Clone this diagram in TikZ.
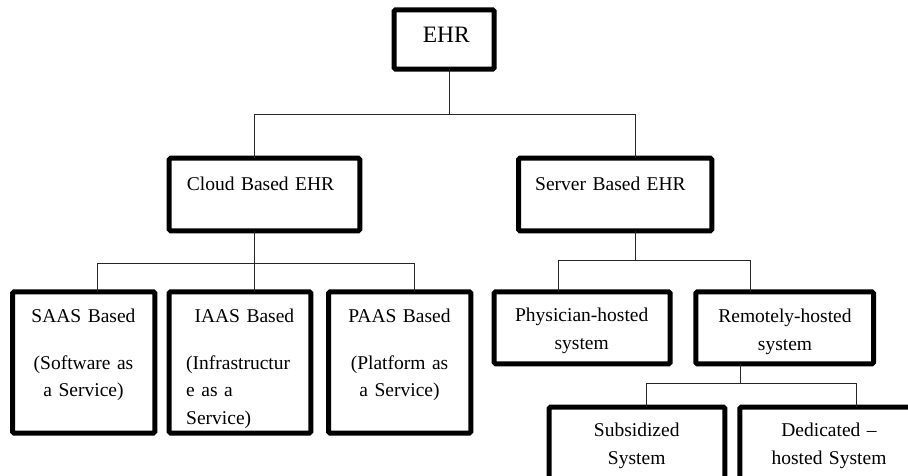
\documentclass[tikz,border=0pt]{standalone}
\usepackage{fontspec}
\setmainfont{Liberation Serif}
\begin{document}
\begin{tikzpicture}[x=1pt,y=-1pt,
  box/.style={draw=black, line width=5pt, rounded corners=1.5pt, inner sep=0pt, outer sep=0pt},
  conn/.style={draw=black!85, line width=1pt},
  lbl/.style={font=\fontsize{19.5}{27.5}\selectfont, inner sep=0pt, align=center, text width=#1, anchor=base},
  lbl/.default=170pt]
\useasboundingbox (0,0) rectangle (908,475);
\clip (0,0) rectangle (908,475);
\fill[white] (0,0) rectangle (908,475);

% boxes
\node[box, minimum width=100pt,   minimum height=59.4pt]  (ehr)    at (444.2,39.5)  {};
\node[box, minimum width=190.6pt, minimum height=72.6pt]  (cloud)  at (264.5,194.5) {};
\node[box, minimum width=193.3pt, minimum height=72.6pt]  (server) at (615.15,194.5) {};
\node[box, minimum width=142.3pt, minimum height=141.2pt] (saas)   at (83.65,362.4) {};
\node[box, minimum width=141.6pt, minimum height=141.2pt] (iaas)   at (240,362.4)   {};
\node[box, minimum width=142.3pt, minimum height=141.2pt] (paas)   at (399.65,362.4) {};
\node[box, minimum width=176pt,   minimum height=72pt]    (phys)   at (582.2,327.8) {};
\node[box, minimum width=177.7pt, minimum height=72pt]    (remote) at (784.65,327.8) {};
\node[box, minimum width=175.6pt, minimum height=75.5pt]  (subs)   at (637,444.75)  {};
\node[box, minimum width=178.4pt, minimum height=75.5pt]  (dedi)   at (829,444.75)  {};

% texts
\node[lbl=90pt, font=\fontsize{23.5}{28}\selectfont] (ehrt) at (446.3,42.7) {EHR};
\node[lbl=170pt, align=left, anchor=base west] (cloudt)  at (186.7,190) {Cloud Based EHR};
\node[lbl=170pt, align=left, anchor=base west] (servert) at (535,190)   {Server Based EHR};
\node[lbl=135pt] (saast) at (83.5,322.7) {SAAS Based\\[18.8pt](Software as\\a Service)};
\node[lbl=108pt, align=left, anchor=base west] (iaast) at (186,322.7)
  {\hspace*{\fill}IAAS Based\hspace*{\fill}\\[18.8pt](Infrastructur\\e as a\\Service)};
\node[lbl=135pt] (paast) at (399.5,322.7) {PAAS Based\\[18.8pt](Platform as\\a Service)};
\node[lbl=170pt] (physt)   at (581.7,321.7) {Physician-hosted\\system};
\node[lbl=170pt] (remotet) at (785,322.7)   {Remotely-hosted\\system};
\node[lbl=170pt] (subst)   at (636.7,436.7) {Subsidized\\System};
\node[lbl=170pt] (dedit)   at (829,436.7)   {Dedicated –\\hosted System};

% junctions
\coordinate (jE) at (449.3,114.7);
\coordinate (jC) at (254.3,114.7);
\coordinate (jS) at (635.7,114.7);
\coordinate (kC) at (254.3,263.3);
\coordinate (kL) at (97.7,263.3);
\coordinate (kR) at (414.3,263.3);
\coordinate (mS) at (635.7,260);
\coordinate (mL) at (558.3,260);
\coordinate (mR) at (750.7,260);
\coordinate (nS) at (740.7,383.3);
\coordinate (nL) at (646,383.3);
\coordinate (nR) at (856,383.3);

% connectors
\draw[conn] (ehr.south -| jE) -- (jE);
\draw[conn] (cloud.north -| jC) -- (jC) -- (jS) -- (server.north -| jS);
\draw[conn] (cloud.south -| kC) -- (kC);
\draw[conn] (saas.north -| kL) -- (kL) -- (kR) -- (paas.north -| kR);
\draw[conn] (kC) -- (iaas.north -| kC);
\draw[conn] (server.south -| mS) -- (mS);
\draw[conn] (phys.north -| mL) -- (mL) -- (mR) -- (remote.north -| mR);
\draw[conn] (remote.south -| nS) -- (nS);
\draw[conn] (subs.north -| nL) -- (nL) -- (nR) -- (dedi.north -| nR);
\end{tikzpicture}
\end{document}
